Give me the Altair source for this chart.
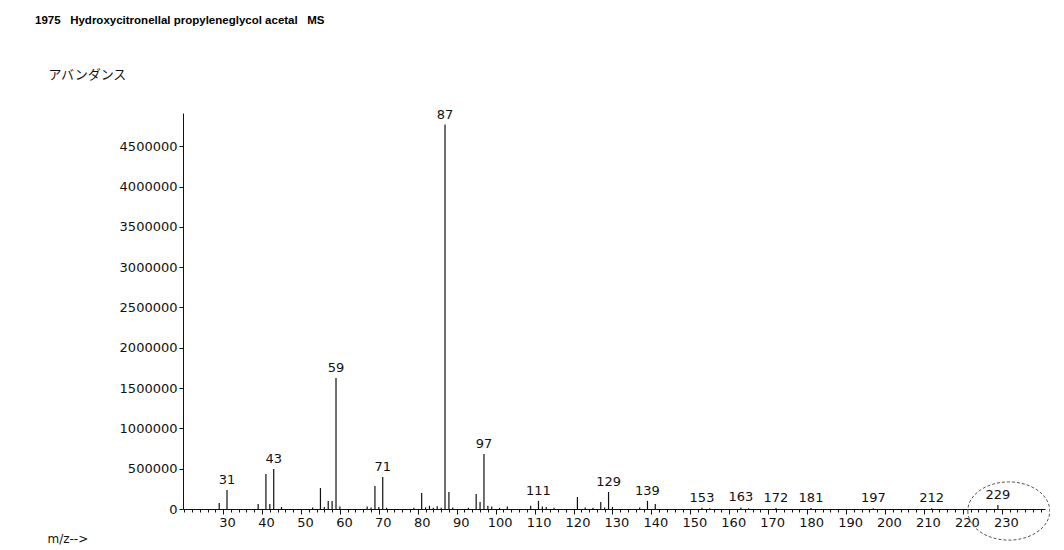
import altair as alt
import pandas as pd

# ---- data ----
MZ = [29, 31, 39, 41, 42, 43, 45, 53, 55, 56, 57, 58, 59, 60,
      67, 68, 69, 70, 71, 72, 79, 81, 82, 83, 84, 85, 86, 87, 88, 89,
      93, 95, 96, 97, 98, 99, 101, 103, 109, 111, 112, 113, 115,
      121, 123, 125, 127, 128, 129, 130, 137, 139, 141,
      153, 155, 163, 165, 172, 181, 197, 212, 229]
INTENSITY = [75000, 236000, 62000, 434000, 62000, 496000, 25000, 20000, 260000, 25000,
             100000, 100000, 1625000, 30000,
             30000, 20000, 285000, 25000, 397000, 15000, 15000, 198000, 20000, 40000,
             15000, 35000, 15000, 4770000, 211000, 20000,
             15000, 186000, 87000, 682000, 40000, 30000, 15000, 30000, 40000, 100000,
             30000, 25000, 15000,
             149000, 20000, 15000, 87000, 20000, 211000, 25000, 20000, 100000, 62000,
             15000, 10000, 20000, 10000, 12000, 12000, 10000, 10000, 50000]
LABELED = [31, 43, 59, 71, 87, 97, 111, 129, 139, 153, 163, 172, 181, 197, 212, 229]

X_MINOR_TICKS = list(range(20, 242, 2))
X_LABELS = [30, 40, 50, 60, 70, 80, 90, 100, 110, 120, 130, 140, 150, 160,
            170, 180, 190, 200, 210, 220, 230]
Y_TICKS = [0, 500000, 1000000, 1500000, 2000000, 2500000, 3000000,
           3500000, 4000000, 4500000]

CIRCLE_MZ = [231.8]
CIRCLE_Y = [-25000]

NB = "\u00a0"
TITLE = "1975" + NB * 3 + "Hydroxycitronellal propyleneglycol acetal" + NB * 3 + "MS"
Y_TITLE = "アバンダンス"
X_TITLE = "m/z-->"

# ---- tables ----
peaks = pd.DataFrame({"mz": MZ, "intensity": INTENSITY})
lab_df = peaks[peaks["mz"].isin(LABELED)].copy()
lab_df["label"] = lab_df["mz"].astype(str)
circle_df = pd.DataFrame({"mz": CIRCLE_MZ, "intensity": CIRCLE_Y})

FONT = "DejaVu Sans"
INK = "#111111"

x_scale = alt.Scale(domain=[19.7, 241.1], nice=False, zero=False)
y_scale = alt.Scale(domain=[0, 4913000], nice=False)

# minor-tick axis (drawn with the bars): carries the domain line
x_axis_minor = alt.Axis(
    orient="bottom",
    values=X_MINOR_TICKS,
    labels=False,
    grid=False,
    tickSize=3,
    tickColor=INK,
    domainColor=INK,
    title=None,
)

# major axis with the labels (drawn with the peak labels)
x_axis_major = alt.Axis(
    orient="bottom",
    values=X_LABELS,
    format="d",
    grid=False,
    domain=False,
    tickSize=5,
    tickColor=INK,
    labelFont=FONT,
    labelFontSize=13,
    labelColor=INK,
    labelOffset=4,
    labelPadding=2,
    labelFlush=False,
    labelOverlap=False,
    labelBound=False,
    title=X_TITLE,
    titleFont=FONT,
    titleFontSize=12,
    titleFontWeight="normal",
    titleColor=INK,
    titleAngle=0,
    titleAlign="left",
    titleBaseline="middle",
    titleX=-136,
    titleY=29,
)

y_axis = alt.Axis(
    values=Y_TICKS,
    format="d",
    grid=False,
    tickSize=4,
    tickColor=INK,
    domainColor=INK,
    labelFont=FONT,
    labelFontSize=13,
    labelColor=INK,
    labelPadding=2,
    labelFlush=False,
    labelOverlap=False,
    title=Y_TITLE,
    titleFont="Noto Sans CJK JP",
    titleFontSize=13,
    titleFontWeight="normal",
    titleColor=INK,
    titleAngle=0,
    titleAlign="left",
    titleBaseline="middle",
    titleX=-135,
    titleY=-39,
)

bars = alt.Chart(peaks).mark_rule(color=INK, strokeWidth=1.2).encode(
    x=alt.X("mz:Q", scale=x_scale, axis=x_axis_minor),
    y=alt.Y("intensity:Q", scale=y_scale, axis=y_axis),
    y2=alt.datum(0),
)

labels = alt.Chart(lab_df).mark_text(
    font=FONT, fontSize=13, color=INK, baseline="bottom", align="center", dy=-3
).encode(
    x=alt.X("mz:Q", scale=x_scale, axis=x_axis_major),
    y=alt.Y("intensity:Q", scale=y_scale),
    text="label:N",
)

circle = alt.Chart(circle_df).mark_point(
    shape="M-1,0 A1,0.71 0 1,0 1,0 A1,0.71 0 1,0 -1,0 Z",
    filled=False,
    stroke="#555555",
    strokeWidth=1,
    strokeDash=[3, 2],
    size=6724,
    opacity=1,
).encode(
    x=alt.X("mz:Q", scale=x_scale, axis=None),
    y=alt.Y("intensity:Q", scale=y_scale),
)

chart = alt.layer(bars, labels, circle).resolve_axis(x="independent").properties(
    width=862,
    height=396,
    padding={"left": 175, "top": 105, "right": 5, "bottom": 38},
    autosize=alt.AutoSizeParams(type="none"),
    title=alt.TitleParams(
        TITLE,
        anchor="start",
        frame="group",
        dx=-148,
        offset=42,
        font="Liberation Sans",
        fontSize=11.5,
        fontWeight="bold",
        color="#000000",
    ),
    background="white",
).configure_view(stroke=None)

chart.save("out.html", embed_options={"renderer": "svg", "actions": False})
